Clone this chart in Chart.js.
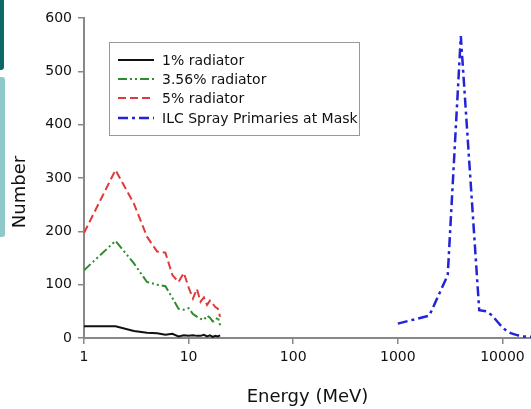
<!DOCTYPE html>
<html>
<head>
<meta charset="utf-8">
<script src="https://cdn.jsdelivr.net/npm/chart.js@4/dist/chart.umd.min.js"></script>
<style>
  body { margin: 0; background: #fff; }
  #wrap { position: relative; width: 531px; height: 409px; }
  .band { position: absolute; left: 0; }
  #band1 { top: 0; width: 4px; height: 70px; background: #0b6864; border-bottom-right-radius: 3px; }
  #band2 { top: 77px; width: 5px; height: 160px; background: #8ec9c9; border-radius: 0 3px 3px 0; }
</style>
</head>
<body>
<div id="wrap">
  <canvas id="chart" width="531" height="409"></canvas>
  <div class="band" id="band1"></div>
  <div class="band" id="band2"></div>
</div>
<script>
// energies (MeV) for the radiator curves
const radEnergy = [1, 2, 3, 4, 5, 6, 7, 8, 9, 10, 11, 12, 13, 14, 15, 16, 17, 18, 19, 20];
const rad1 = [22, 22, 13, 10, 9, 6, 8, 3, 5, 4, 5, 4, 4, 6, 3, 5, 2, 4, 3, 5];
const rad356 = [127, 182, 140, 105, 100, 97, 75, 55, 53, 56, 45, 40, 36, 34, 42, 38, 31, 32, 40, 24];
const rad5 = [197, 315, 252, 190, 162, 160, 118, 105, 122, 95, 74, 92, 68, 76, 62, 70, 64, 58, 55, 40];

// ILC spray primaries
const sprayEnergy = [1000, 2000, 3000, 4000, 6000, 7000, 8000, 9000, 10000, 11000, 12000, 14000, 16000, 20000];
const sprayCount = [27, 42, 118, 566, 52, 50, 42, 30, 20, 13, 9, 5, 3, 2];

const xTicks = [1, 10, 100, 1000, 10000];
const yTicks = [0, 100, 200, 300, 400, 500, 600];

const FONT = "'DejaVu Sans', sans-serif";

function pts(xs, ys) {
  return xs.map((x, i) => ({ x: x, y: ys[i] }));
}

// legend drawn inside the plot, like the original
const boxLegend = {
  id: 'boxLegend',
  afterDraw(chart) {
    const ctx = chart.ctx;
    ctx.save();
    ctx.strokeStyle = '#999';
    ctx.lineWidth = 1;
    ctx.strokeRect(109.5, 42.5, 250, 93);
    ctx.font = '14px ' + FONT;
    ctx.textBaseline = 'middle';
    ctx.fillStyle = '#111';
    const rows = [60, 79, 98, 118];
    chart.data.datasets.forEach((ds, i) => {
      const y = rows[i];
      ctx.strokeStyle = ds.borderColor;
      ctx.lineWidth = ds.borderWidth;
      ctx.setLineDash(ds.borderDash || []);
      ctx.beginPath();
      ctx.moveTo(118, y);
      ctx.lineTo(154, y);
      ctx.stroke();
      ctx.setLineDash([]);
      ctx.fillText(ds.label, 162, y + 1);
    });
    // y axis title, sits a bit below the middle in the source
    ctx.translate(20, 192);
    ctx.rotate(-Math.PI / 2);
    ctx.textAlign = 'center';
    ctx.font = '18px ' + FONT;
    ctx.fillText('Number', 0, 0);
    ctx.restore();
  }
};

new Chart(document.getElementById('chart'), {
  type: 'line',
  data: {
    datasets: [{
      label: '1% radiator',
      data: pts(radEnergy, rad1),
      borderColor: '#111',
      borderWidth: 2,
      pointRadius: 0
    }, {
      label: '3.56% radiator',
      data: pts(radEnergy, rad356),
      borderColor: '#2e8b2e',
      borderWidth: 2,
      borderDash: [9, 3, 2, 3, 2, 3],
      pointRadius: 0
    }, {
      label: '5% radiator',
      data: pts(radEnergy, rad5),
      borderColor: '#e03a3a',
      borderWidth: 2,
      borderDash: [8, 4],
      pointRadius: 0
    }, {
      label: 'ILC Spray Primaries at Mask',
      data: pts(sprayEnergy, sprayCount),
      borderColor: '#2323d8',
      borderWidth: 2.5,
      borderDash: [10, 4, 3, 4],
      pointRadius: 0
    }]
  },
  options: {
    responsive: false,
    animation: false,
    layout: { padding: { top: 18, right: 0, left: 0, bottom: 0 } },
    plugins: {
      legend: { display: false },
      tooltip: { enabled: false }
    },
    scales: {
      x: {
        type: 'logarithmic',
        min: 1,
        max: 18750,
        afterBuildTicks: (scale) => { scale.ticks = xTicks.map(v => ({ value: v })); },
        afterFit: (scale) => { scale.height = 71; },
        ticks: {
          autoSkip: false,
          maxRotation: 0,
          padding: 5,
          color: '#111',
          font: { family: FONT, size: 14 },
          callback: (v) => String(v)
        },
        grid: { drawOnChartArea: false, tickLength: 6, color: '#888', lineWidth: 1.5 },
        border: { color: '#888', width: 2 },
        title: {
          display: true,
          text: 'Energy (MeV)',
          color: '#111',
          font: { family: FONT, size: 18 },
          padding: { top: 4, bottom: 1 }
        }
      },
      y: {
        min: 0,
        max: 600,
        afterBuildTicks: (scale) => { scale.ticks = yTicks.map(v => ({ value: v })); },
        afterFit: (scale) => { scale.width = 84; },
        ticks: {
          padding: 6,
          color: '#111',
          font: { family: FONT, size: 14 }
        },
        grid: { drawOnChartArea: false, tickLength: 6, color: '#888', lineWidth: 1.5 },
        border: { color: '#888', width: 2 }
      }
    }
  },
  plugins: [boxLegend]
});
</script>
</body>
</html>
